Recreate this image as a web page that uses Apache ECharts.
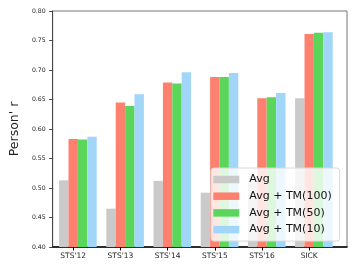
<!DOCTYPE html>
<html>
<head>
<meta charset="utf-8">
<script src="https://cdn.jsdelivr.net/npm/echarts@6/dist/echarts.min.js"></script>
<style>
html,body{margin:0;padding:0;background:#fff;}
#c{width:357px;height:268px;}
</style>
</head>
<body>
<div id="c"></div>
<script>
var categories = ["STS'12", "STS'13", "STS'14", "STS'15", "STS'16", "SICK"];
var avg   = [0.513, 0.465, 0.512, 0.492, 0.520, 0.652];
var tm100 = [0.583, 0.645, 0.679, 0.688, 0.652, 0.761];
var tm50  = [0.582, 0.639, 0.677, 0.688, 0.654, 0.763];
var tm10  = [0.587, 0.659, 0.696, 0.695, 0.661, 0.764];
var seriesNames = ['Avg', 'Avg + TM(100)', 'Avg + TM(50)', 'Avg + TM(10)'];
var yMin = 0.40, yMax = 0.80, yStep = 0.05;

var colors = ['#cacaca', '#fe8170', '#5bd65b', '#a2d6f9'];
var font = 'DejaVu Sans';

var chart = echarts.init(document.getElementById('c'), null, {renderer: 'canvas'});

function hiddenY(gi) {
  return {gridIndex: gi, type: 'value', min: yMin, max: yMax, interval: yStep,
    show: false, splitLine: {show: false}};
}

var data = [avg, tm100, tm50, tm10];
var series = data.map(function (d, i) {
  return {
    name: seriesNames[i], type: 'bar', xAxisIndex: 1, yAxisIndex: 1,
    data: d, barWidth: 9.4, barGap: '0%',
    itemStyle: {color: colors[i]},
    emphasis: {disabled: true}, animation: false
  };
});

chart.setOption({
  animation: false,
  textStyle: {fontFamily: font},
  grid: [
    {left: 44, right: 10, top: 11, bottom: 21, show: true, borderColor: '#777', borderWidth: 1, backgroundColor: 'transparent'},
    {left: 54.3, right: 19.5, top: 11, bottom: 21},
    {left: 49.6, right: 24.2, top: 11, bottom: 21}
  ],
  xAxis: [
    {gridIndex: 0, type: 'value', min: 0, max: 1, axisLabel: {show: false}, axisTick: {show: false},
      splitLine: {show: false}, axisLine: {show: true, lineStyle: {color: '#000', width: 1.5}}},
    {gridIndex: 1, type: 'category', data: categories, show: false},
    {gridIndex: 2, type: 'category', data: categories,
      axisLine: {show: false},
      axisTick: {show: true, alignWithLabel: true, length: 3.5, lineStyle: {color: '#000', width: 1}},
      axisLabel: {fontSize: 7.5, color: '#222', margin: 5, fontFamily: font},
      splitLine: {show: false}}
  ],
  yAxis: [
    {gridIndex: 0, type: 'value', min: yMin, max: yMax, interval: yStep,
      name: "Person' r", nameLocation: 'middle', nameGap: 23,
      nameTextStyle: {fontSize: 12.5, color: '#222', fontFamily: font},
      axisLine: {show: true, lineStyle: {color: '#444', width: 1}},
      axisTick: {show: true, length: 3.5, lineStyle: {color: '#444'}},
      axisLabel: {fontSize: 6.2, color: '#222', margin: 7, fontFamily: font,
        formatter: function (v) { return v.toFixed(2); }},
      splitLine: {show: false}},
    hiddenY(1),
    hiddenY(2)
  ],
  legend: {
    left: 211, top: 168, orient: 'vertical', icon: 'rect',
    itemWidth: 26, itemHeight: 7.5, itemGap: 3.7,
    padding: [5, 8, 5, 2.3],
    backgroundColor: 'rgba(255,255,255,0.8)',
    borderColor: '#d8d8d8', borderWidth: 1, borderRadius: 3,
    selectedMode: false,
    textStyle: {fontSize: 11, color: '#111', fontFamily: font, lineHeight: 13, padding: [0, 0, 0, 5]},
    data: seriesNames
  },
  series: series
});
</script>
</body>
</html>
